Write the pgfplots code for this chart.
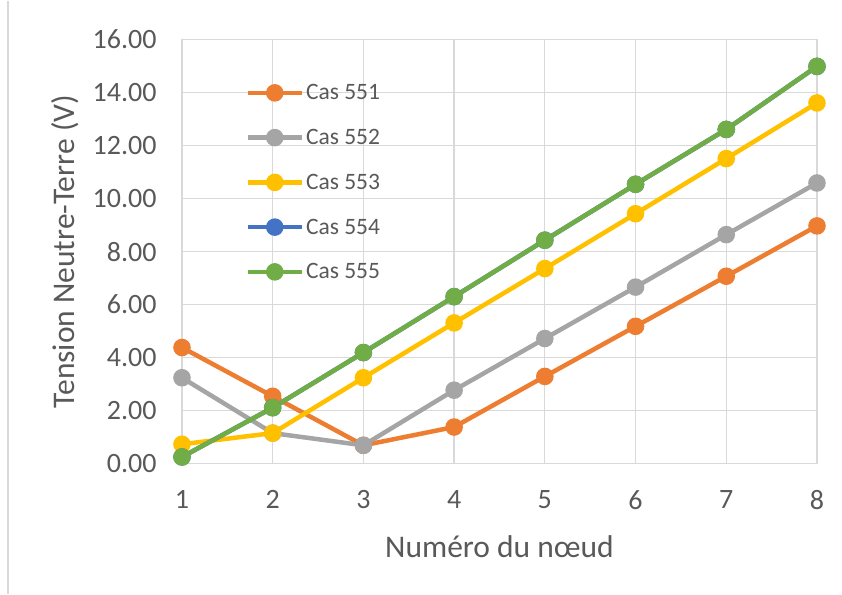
\documentclass[border=0pt]{standalone}
\usepackage{fontspec}
\setmainfont{Carlito}
\usepackage{pgfplots}
\pgfplotsset{compat=1.18}
\definecolor{c551}{HTML}{ED7D31}
\definecolor{c552}{HTML}{A5A5A5}
\definecolor{c553}{HTML}{FFC000}
\definecolor{c554}{HTML}{4472C4}
\definecolor{c555}{HTML}{70AD47}
\definecolor{gridc}{HTML}{D9D9D9}
\definecolor{txt}{HTML}{595959}
\begin{document}
\begin{tikzpicture}
\begin{axis}[
  scale only axis,
  width=635pt, height=424pt,
  xmin=1, xmax=8, ymin=0, ymax=16,
  xtick={1,2,3,4,5,6,7,8},
  ytick={0,2,4,6,8,10,12,14,16},
  grid=major,
  major grid style={gridc, line width=1.3pt},
  axis line style={gridc, line width=1.3pt},
  major tick length=0pt,
  clip=false,
  /pgf/number format/assume math mode=true,
  yticklabel style={/pgf/number format/fixed, /pgf/number format/fixed zerofill, /pgf/number format/precision=2, font=\fontsize{28}{33}\selectfont, text=txt, xshift=-22pt},
  xticklabel style={font=\fontsize{28}{33}\selectfont, text=txt, yshift=-23pt},
  xlabel={Numéro du nœud},
  ylabel={Tension Neutre-Terre (V)},
  xlabel style={font=\fontsize{31.5}{36}\selectfont, text=txt, at={(axis description cs:0.5,-0.221)}, anchor=base},
  ylabel style={font=\fontsize{31.5}{36}\selectfont, text=txt, at={(axis description cs:-0.1685,0.5)}, anchor=base},
  legend style={draw=none, fill=none, at={(axis description cs:0.095,0.904)}, anchor=north west, font=\fontsize{23.5}{28}\selectfont, text=txt, row sep=24pt, legend cell align=left},
  legend image code/.code={\draw[mark repeat=2,mark phase=2] plot coordinates {(0pt,0pt) (27pt,0pt) (54pt,0pt)};},
  every axis plot/.append style={line width=4.5pt, mark=*, mark size=6.5pt, mark options={solid, line width=0.5pt}},
]
\addplot[c551, mark options={fill=c551, draw=c551}] coordinates {(1,4.38) (2,2.54) (3,0.69) (4,1.38) (5,3.29) (6,5.18) (7,7.07) (8,8.97)};
\addlegendentry{Cas 551}
\addplot[c552, mark options={fill=c552, draw=c552}] coordinates {(1,3.24) (2,1.15) (3,0.69) (4,2.77) (5,4.72) (6,6.66) (7,8.64) (8,10.59)};
\addlegendentry{Cas 552}
\addplot[c553, mark options={fill=c553, draw=c553}] coordinates {(1,0.73) (2,1.15) (3,3.24) (4,5.31) (5,7.36) (6,9.43) (7,11.51) (8,13.61)};
\addlegendentry{Cas 553}
\addplot[c554, mark options={fill=c554, draw=c554}] coordinates {(1,0.25) (2,2.11) (3,4.19) (4,6.30) (5,8.43) (6,10.54) (7,12.61) (8,14.99)};
\addlegendentry{Cas 554}
\addplot[c555, mark options={fill=c555, draw=c555}] coordinates {(1,0.25) (2,2.11) (3,4.19) (4,6.30) (5,8.43) (6,10.54) (7,12.61) (8,14.99)};
\addlegendentry{Cas 555}
\path (rel axis cs:-0.2866,-0.3066) rectangle (rel axis cs:1.0394,1.092);
\draw[gridc, line width=1.2pt] (rel axis cs:-0.274,-0.3066) -- (rel axis cs:-0.274,1.092);
\end{axis}
\end{tikzpicture}
\end{document}
